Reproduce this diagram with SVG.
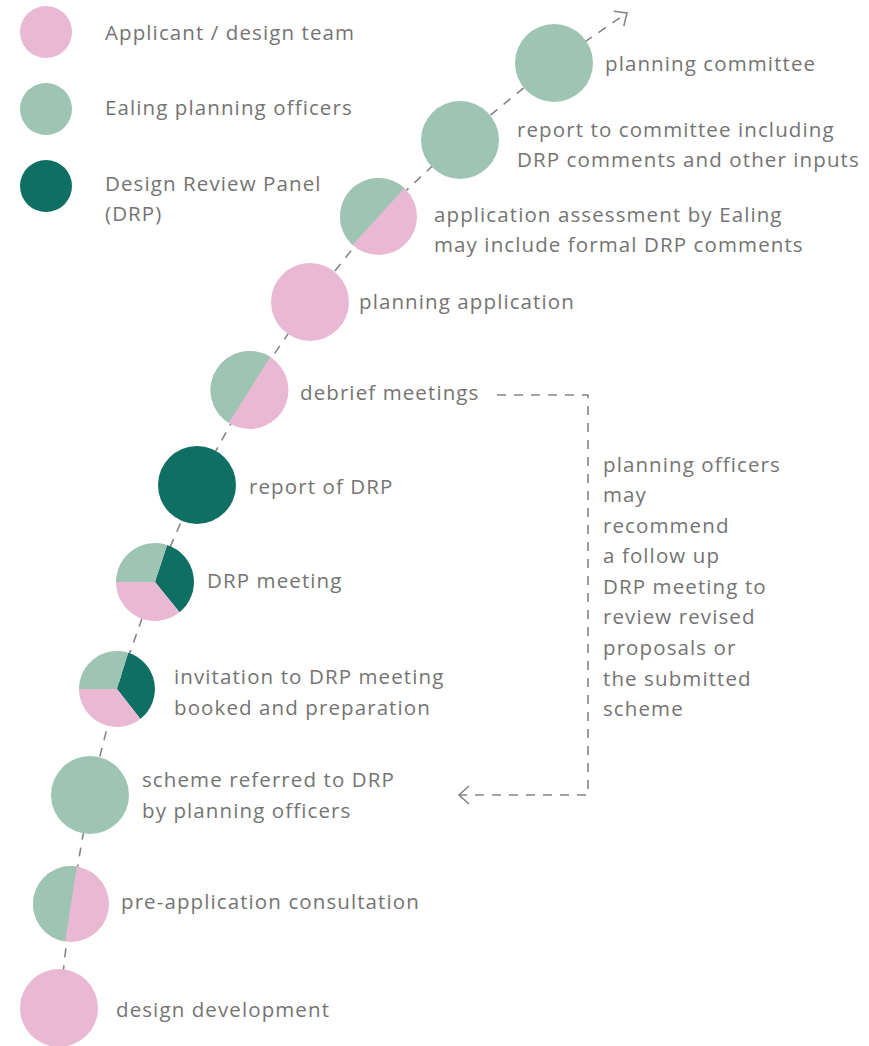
<svg xmlns="http://www.w3.org/2000/svg" width="869" height="1046" viewBox="0 0 869 1046">
<style>
.t{font-family:"Open Sans","Liberation Sans",sans-serif;font-size:20.5px;font-weight:400;letter-spacing:1.1px;fill:#747474}
.pk{fill:#E9B9D3}
.gn{fill:#9EC5B4}
.dk{fill:#0F6F62}
.ln{fill:none;stroke:#858585;stroke-width:1.6;stroke-dasharray:9 8}
.ah{fill:none;stroke:#858585;stroke-width:1.6}
</style>
<defs>
<marker id="arr" markerUnits="userSpaceOnUse" markerWidth="24" markerHeight="24" viewBox="-12 -12 24 24" refX="0" refY="0" orient="auto">
<path class="ah" d="M-10,-9 L0,0 L-10,9"/>
</marker>
</defs>
<rect width="869" height="1046" fill="#fff"/>
<g id="connectors">
<path class="ln" d="M59,1008 L71,904 L90,795 L117,689 L155,582 L197,485 L249.5,390 L310,302 L378.5,216.5 L460,140 L554,63 L627,13" marker-end="url(#arr)"/>
<path class="ln" d="M497,395 H588 V795 H459" marker-end="url(#arr)"/>
</g>
<g id="legend-applicant"><circle class="pk" cx="46" cy="32" r="26"/><text class="t" x="105" y="40">Applicant / design team</text></g>
<g id="legend-officers"><circle class="gn" cx="46" cy="109" r="26"/><text class="t" x="105" y="115">Ealing planning officers</text></g>
<g id="legend-drp"><circle class="dk" cx="46" cy="186" r="26"/><text class="t" x="105" y="191">Design Review Panel</text><text class="t" x="105" y="221">(DRP)</text></g>
<g id="n-design-development"><circle class="pk" cx="59" cy="1008" r="39"/><text class="t" x="116" y="1017">design development</text></g>
<g id="n-pre-application"><circle class="pk" cx="71" cy="904" r="38"/><path class="gn" d="M76.85,866.45 A38,38 0 0 0 65.15,941.55 Z"/><text class="t" x="121" y="909">pre-application consultation</text></g>
<g id="n-scheme-referred"><circle class="gn" cx="90" cy="795" r="39"/><text class="t" x="142" y="787">scheme referred to DRP</text><text class="t" x="142" y="818">by planning officers</text></g>
<g id="n-invitation">
<path class="dk" d="M117,689 L128.1,652.7 A38,38 0 0 1 140.4,718.9 Z"/>
<path class="pk" d="M117,689 L140.4,718.9 A38,38 0 0 1 79,689 Z"/>
<path class="gn" d="M117,689 L79,689 A38,38 0 0 1 128.1,652.7 Z"/>
<text class="t" x="174" y="684">invitation to DRP meeting</text><text class="t" x="174" y="715">booked and preparation</text></g>
<g id="n-drp-meeting">
<path class="dk" d="M155,582 L167.05,544.9 A39,39 0 0 1 179.5,612.3 Z"/>
<path class="pk" d="M155,582 L179.5,612.3 A39,39 0 0 1 116,582 Z"/>
<path class="gn" d="M155,582 L116,582 A39,39 0 0 1 167.05,544.9 Z"/>
<text class="t" x="207" y="588">DRP meeting</text></g>
<g id="n-report-drp"><circle class="dk" cx="197" cy="485" r="39"/><text class="t" x="249" y="494">report of DRP</text></g>
<g id="n-debrief"><circle class="pk" cx="249.5" cy="390" r="39"/><path class="gn" d="M270.3,357 A39,39 0 0 0 228.7,423 Z"/><text class="t" x="300" y="400">debrief meetings</text></g>
<g id="n-planning-application"><circle class="pk" cx="310" cy="302" r="39"/><text class="t" x="359" y="309">planning application</text></g>
<g id="n-assessment"><circle class="pk" cx="378.5" cy="216.5" r="38.5"/><path class="gn" d="M404.4,188 A38.5,38.5 0 0 0 352.6,245 Z"/><text class="t" x="434" y="222">application assessment by Ealing</text><text class="t" x="434" y="252">may include formal DRP comments</text></g>
<g id="n-report-committee"><circle class="gn" cx="460" cy="140" r="39"/><text class="t" x="517" y="137">report to committee including</text><text class="t" x="517" y="167">DRP comments and other inputs</text></g>
<g id="n-planning-committee"><circle class="gn" cx="554" cy="63" r="39"/><text class="t" x="605" y="71">planning committee</text></g>
<g id="n-followup-note">
<text class="t" x="603" y="472">planning officers</text>
<text class="t" x="603" y="502">may</text>
<text class="t" x="603" y="533">recommend</text>
<text class="t" x="603" y="563">a follow up</text>
<text class="t" x="603" y="594">DRP meeting to</text>
<text class="t" x="603" y="624">review revised</text>
<text class="t" x="603" y="655">proposals or</text>
<text class="t" x="603" y="686">the submitted</text>
<text class="t" x="603" y="716">scheme</text>
</g>
</svg>
